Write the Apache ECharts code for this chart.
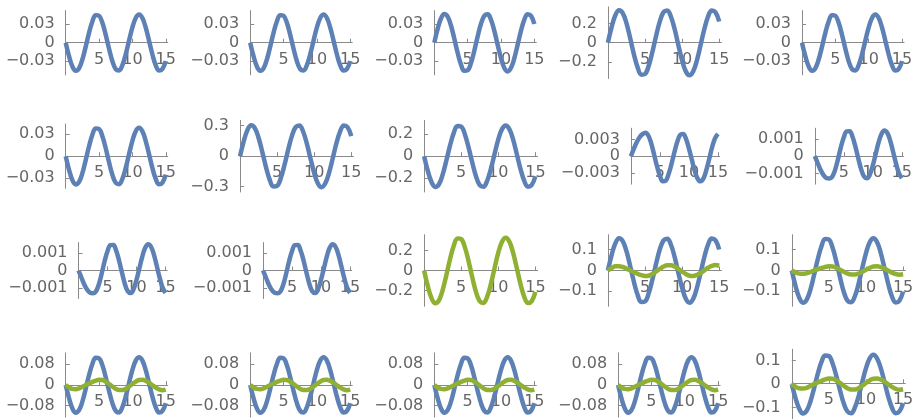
<!DOCTYPE html>
<html><head><meta charset="utf-8">
<script src="https://cdn.jsdelivr.net/npm/echarts@6/dist/echarts.min.js"></script>
<style>html,body{margin:0;padding:0;background:#fff;}#c{width:917px;height:419px;}</style>
</head><body><div id="c"></div>
<script>
// time samples
const T = [0,0.5,1,1.5,2,2.5,3,3.5,4,4.5,5,5.5,6,6.5,7,7.5,8,8.5,9,9.5,10,10.5,11,11.5,12,12.5,13,13.5,14,14.5,15];
const xTicks = [5, 10, 15];
const xTickLabels = ['5', '10', '15'];

// curve values
const p1Blue = [0,-0.0218,-0.0383,-0.0454,-0.0414,-0.0272,-0.0064,0.0160,0.0344,0.0445,0.0436,0.0321,0.0127,-0.0098,-0.0299,-0.0427,-0.0450,-0.0363,-0.0187,0.0034,0.0248,0.0400,0.0455,0.0398,0.0244,0.0030,-0.0191,-0.0366,-0.0451,-0.0425,-0.0296];
const p2Blue = [0,-0.0218,-0.0383,-0.0454,-0.0414,-0.0272,-0.0064,0.0160,0.0344,0.0445,0.0436,0.0321,0.0127,-0.0098,-0.0299,-0.0427,-0.0450,-0.0363,-0.0187,0.0034,0.0248,0.0400,0.0455,0.0398,0.0244,0.0030,-0.0191,-0.0366,-0.0451,-0.0425,-0.0296];
const p3Blue = [0,0.0223,0.0391,0.0464,0.0423,0.0278,0.0066,-0.0163,-0.0352,-0.0455,-0.0446,-0.0328,-0.0130,0.0100,0.0306,0.0436,0.0460,0.0371,0.0192,-0.0035,-0.0253,-0.0409,-0.0465,-0.0407,-0.0250,-0.0031,0.0195,0.0374,0.0461,0.0435,0.0302];
const p4Blue = [0,0.163,0.286,0.339,0.309,0.203,0.048,-0.119,-0.257,-0.333,-0.326,-0.240,-0.095,0.073,0.223,0.319,0.336,0.271,0.140,-0.026,-0.185,-0.299,-0.340,-0.298,-0.183,-0.022,0.143,0.273,0.337,0.318,0.221];
const p5Blue = [0,-0.0218,-0.0383,-0.0454,-0.0414,-0.0272,-0.0064,0.0160,0.0344,0.0445,0.0436,0.0321,0.0127,-0.0098,-0.0299,-0.0427,-0.0450,-0.0363,-0.0187,0.0034,0.0248,0.0400,0.0455,0.0398,0.0244,0.0030,-0.0191,-0.0366,-0.0451,-0.0425,-0.0296];
const p6Blue = [0,-0.0185,-0.0325,-0.0385,-0.0351,-0.0231,-0.0054,0.0135,0.0292,0.0378,0.0370,0.0273,0.0108,-0.0083,-0.0254,-0.0362,-0.0382,-0.0308,-0.0159,0.0029,0.0210,0.0340,0.0386,0.0338,0.0207,0.0025,-0.0162,-0.0310,-0.0383,-0.0361,-0.0251];
const p7Blue = [0,0.146,0.257,0.304,0.277,0.182,0.043,-0.107,-0.231,-0.298,-0.292,-0.215,-0.085,0.066,0.200,0.286,0.302,0.243,0.126,-0.023,-0.166,-0.268,-0.305,-0.267,-0.164,-0.020,0.128,0.245,0.302,0.285,0.198];
const p8Blue = [0,-0.134,-0.235,-0.279,-0.255,-0.167,-0.039,0.098,0.212,0.274,0.269,0.198,0.078,-0.060,-0.184,-0.263,-0.277,-0.223,-0.115,0.021,0.152,0.246,0.280,0.245,0.150,0.018,-0.118,-0.225,-0.277,-0.262,-0.182];
const p9Blue = [0,0.0013,0.0025,0.0034,0.00395,0.0042,0.0037,0.0023,0.0003,-0.0018,-0.0035,-0.0045,-0.0044,-0.0032,-0.0014,0.0007,0.0026,0.0038,0.00395,0.0031,0.0014,-0.0006,-0.0026,-0.0040,-0.0045,-0.0040,-0.0025,-0.0005,0.0016,0.0032,0.0040];
const p10Blue = [0,-0.0004,-0.0008,-0.0011,-0.00127,-0.0013,-0.0012,-0.0008,-0.00017,0.00053,0.0011,0.00145,0.00146,0.00113,0.00056,-0.00013,-0.00077,-0.00119,-0.00129,-0.00106,-0.00054,0.00013,0.0008,0.0013,0.0015,0.00136,0.00091,0.00026,-0.00042,-0.00098,-0.00128];
const p11Blue = [0,-0.0004,-0.0008,-0.0011,-0.00127,-0.0013,-0.0012,-0.0008,-0.00017,0.00053,0.0011,0.00145,0.00146,0.00113,0.00056,-0.00013,-0.00077,-0.00119,-0.00129,-0.00106,-0.00054,0.00013,0.0008,0.0013,0.0015,0.00136,0.00091,0.00026,-0.00042,-0.00098,-0.00128];
const p12Blue = [0,-0.0004,-0.0008,-0.0011,-0.00127,-0.0013,-0.0012,-0.0008,-0.00017,0.00053,0.0011,0.00145,0.00146,0.00113,0.00056,-0.00013,-0.00077,-0.00119,-0.00129,-0.00106,-0.00054,0.00013,0.0008,0.0013,0.0015,0.00136,0.00091,0.00026,-0.00042,-0.00098,-0.00128];
const p13Green = [0,-0.158,-0.278,-0.329,-0.300,-0.197,-0.047,0.116,0.250,0.323,0.316,0.233,0.092,-0.071,-0.217,-0.310,-0.326,-0.263,-0.136,0.025,0.180,0.290,0.330,0.289,0.177,0.022,-0.139,-0.265,-0.327,-0.309,-0.215];
const p14Blue = [0,0.074,0.130,0.155,0.141,0.093,0.022,-0.054,-0.117,-0.152,-0.149,-0.109,-0.043,0.033,0.102,0.145,0.153,0.124,0.064,-0.012,-0.084,-0.136,-0.155,-0.136,-0.083,-0.010,0.065,0.125,0.154,0.145,0.101];
const p14Green = [0,0.012,0.020,0.021,0.017,0.009,0.000,-0.008,-0.016,-0.022,-0.026,-0.025,-0.017,-0.005,0.008,0.019,0.025,0.025,0.019,0.008,-0.005,-0.017,-0.025,-0.026,-0.021,-0.012,0.001,0.013,0.022,0.026,0.023];
const p15Blue = [0,-0.074,-0.130,-0.155,-0.141,-0.093,-0.022,0.054,0.117,0.152,0.149,0.109,0.043,-0.033,-0.102,-0.145,-0.153,-0.124,-0.064,0.012,0.084,0.136,0.155,0.136,0.083,0.010,-0.065,-0.125,-0.154,-0.145,-0.101];
const p15Green = [0,-0.009,-0.015,-0.016,-0.013,-0.007,0.000,0.006,0.012,0.017,0.020,0.019,0.013,0.004,-0.006,-0.015,-0.019,-0.019,-0.015,-0.006,0.004,0.013,0.019,0.020,0.016,0.009,-0.001,-0.010,-0.017,-0.020,-0.018];
const row4Blue = [0,-0.051,-0.090,-0.107,-0.097,-0.064,-0.015,0.038,0.081,0.105,0.103,0.076,0.030,-0.023,-0.070,-0.100,-0.106,-0.085,-0.044,0.008,0.058,0.094,0.107,0.094,0.057,0.007,-0.045,-0.086,-0.106,-0.100,-0.070];
const row4Green = [0,-0.009,-0.015,-0.016,-0.013,-0.007,0.000,0.006,0.012,0.017,0.020,0.019,0.013,0.004,-0.006,-0.015,-0.019,-0.019,-0.015,-0.006,0.004,0.013,0.019,0.020,0.016,0.009,-0.001,-0.010,-0.017,-0.020,-0.018];
const p20Blue = [0,-0.060,-0.105,-0.125,-0.114,-0.075,-0.018,0.044,0.095,0.122,0.120,0.088,0.035,-0.027,-0.082,-0.117,-0.124,-0.100,-0.052,0.009,0.068,0.110,0.125,0.109,0.067,0.008,-0.053,-0.101,-0.124,-0.117,-0.081];
const p20Green = [0,-0.011,-0.018,-0.019,-0.016,-0.008,0.000,0.007,0.014,0.020,0.024,0.023,0.016,0.005,-0.007,-0.018,-0.023,-0.023,-0.018,-0.007,0.005,0.016,0.023,0.024,0.019,0.011,-0.001,-0.012,-0.020,-0.024,-0.022];

const blueSets = [p1Blue,p2Blue,p3Blue,p4Blue,p5Blue, p6Blue,p7Blue,p8Blue,p9Blue,p10Blue, p11Blue,p12Blue,null,p14Blue,p15Blue, row4Blue,row4Blue,row4Blue,row4Blue,p20Blue];
const greenSets = [null,null,null,null,null, null,null,null,null,null, null,null,p13Green,p14Green,p15Green, row4Green,row4Green,row4Green,row4Green,p20Green];

// y plot ranges (symmetric) and tick values / labels
const yLimit = [0.052,0.052,0.052,0.373,0.052, 0.0438,0.352,0.325,0.005,0.00163, 0.0016,0.0016,0.36,0.172,0.172, 0.124,0.124,0.124,0.124,0.149];
const yTickValue = [0.03,0.03,0.03,0.2,0.03, 0.03,0.3,0.2,0.003,0.001, 0.001,0.001,0.2,0.1,0.1, 0.08,0.08,0.08,0.08,0.1];
const yTickText = ['0.03','0.03','0.03','0.2','0.03', '0.03','0.3','0.2','0.003','0.001', '0.001','0.001','0.2','0.1','0.1', '0.08','0.08','0.08','0.08','0.1'];

// layout (pixels)
const labelKind = ['A','A','A','B','A', 'A','B','B','C','C', 'C','C','B','B','B', 'A','A','A','A','B'];
const colStart = [0, 184.5, 368.6, 552.4, 736.3];
const rowCenter = [42.7, 156.2, 270.5, 385];
const kindOffset = {A: 65.7, B: 55.5, C: 78.5};
const kindScale = {A: 6.67, B: 7.42, C: 5.8};
const XMAX = 15.3;

const BLUE = '#5E81B5', GREEN = '#8FB032';
const AXIS = '#8a8a8a', TEXT = '#666666';
const FONT = 'DejaVu Sans';

const grids = [], xAxes = [], yAxes = [], series = [];
for (let i = 0; i < 20; i++) {
  const r = Math.floor(i / 5), c = i % 5, k = labelKind[i];
  const sx = kindScale[k];
  const w = XMAX * sx;
  const h = 0.618 * 15.6 * sx;
  grids.push({left: colStart[c] + kindOffset[k], top: rowCenter[r] - h / 2, width: w, height: h});
  xAxes.push({
    type: 'value', gridIndex: i, min: 0, max: XMAX, position: 'bottom', offset: -h / 2,
    axisLine: {onZero: false, lineStyle: {color: AXIS, width: 1}},
    axisTick: {show: true, inside: true, length: 4, customValues: xTicks, lineStyle: {color: AXIS}},
    axisLabel: {customValues: xTicks, margin: 9, color: TEXT, fontSize: 16, fontFamily: FONT, hideOverlap: false,
      formatter: v => xTickLabels[xTicks.indexOf(v)] || String(v)},
    splitLine: {show: false}
  });
  const tv = yTickValue[i], tt = yTickText[i];
  const yVals = [-tv, 0, tv], yTxt = ['\u2212' + tt, '0', tt];
  yAxes.push({
    type: 'value', gridIndex: i, min: -yLimit[i], max: yLimit[i], position: 'left',
    axisLine: {show: true, onZero: false, lineStyle: {color: AXIS, width: 1}},
    axisTick: {show: true, inside: true, length: 4, customValues: [-tv, tv], lineStyle: {color: AXIS}},
    axisLabel: {customValues: yVals, margin: 11, color: TEXT, fontSize: 16, fontFamily: FONT, hideOverlap: false,
      formatter: v => yTxt[yVals.indexOf(v)]},
    splitLine: {show: false}
  });
  const mk = (arr, col) => ({
    type: 'line', xAxisIndex: i, yAxisIndex: i, showSymbol: false, smooth: 0.4,
    data: T.map((t, j) => [t, arr[j]]),
    lineStyle: {color: col, width: 4.5}, itemStyle: {color: col}, silent: true, clip: false
  });
  if (blueSets[i]) series.push(mk(blueSets[i], BLUE));
  if (greenSets[i]) series.push(mk(greenSets[i], GREEN));
}

const chart = echarts.init(document.getElementById('c'), null, {renderer: 'canvas'});
chart.setOption({animation: false, backgroundColor: '#fff', grid: grids, xAxis: xAxes, yAxis: yAxes, series});
</script>
</body></html>
